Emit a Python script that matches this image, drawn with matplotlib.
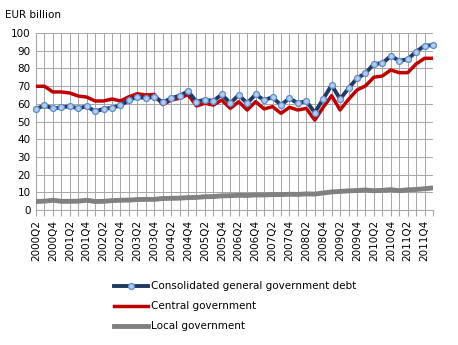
import matplotlib.pyplot as plt

# quarters 2000Q2 .. 2012Q1
quarters = []
for y in range(2000, 2013):
    for q in range(1, 5):
        quarters.append("%dQ%d" % (y, q))
quarters = quarters[1:49]

consolidated = [57.1, 59.1, 57.4, 58.0, 58.6, 57.4, 58.6, 55.7, 57.1, 57.8,
                59.1, 62.0, 64.0, 63.1, 64.0, 60.8, 63.1, 64.6, 67.0, 61.2,
                62.3, 61.6, 65.3, 60.3, 65.0, 60.3, 65.3, 62.1, 63.7, 59.3,
                63.1, 60.3, 61.6, 55.0, 62.7, 70.6, 62.7, 68.7, 74.4, 77.2,
                82.5, 82.9, 87.0, 84.4, 85.1, 89.5, 92.7, 93.2]
central = [69.9, 69.9, 66.7, 66.7, 66.1, 64.4, 63.8, 61.6, 61.6, 62.7,
           61.6, 64.0, 65.7, 65.0, 65.3, 59.5, 62.1, 63.1, 65.2, 58.8,
           60.3, 59.3, 62.1, 57.4, 61.2, 56.5, 61.2, 57.1, 58.4, 54.6,
           58.0, 56.5, 57.4, 50.8, 58.0, 64.6, 56.5, 62.5, 67.8, 70.1,
           75.0, 75.7, 79.1, 77.6, 77.6, 82.5, 85.7, 85.7]
local = [4.8, 5.0, 5.5, 4.9, 4.9, 5.0, 5.5, 4.8, 4.9, 5.3,
         5.5, 5.6, 5.9, 6.0, 6.0, 6.5, 6.6, 6.7, 7.0, 7.1,
         7.5, 7.6, 8.0, 8.1, 8.3, 8.2, 8.5, 8.5, 8.7, 8.7,
         8.9, 8.8, 9.1, 9.0, 9.6, 10.2, 10.5, 10.8, 11.0, 11.3,
         10.9, 11.1, 11.5, 10.9, 11.4, 11.6, 12.0, 12.5]

plt.rcParams['font.family'] = 'DejaVu Sans'
fig = plt.figure(figsize=(4.58, 3.45), dpi=100)
ax = fig.add_axes([36/458, 1-210/345, 397/458, 177/345])

x = list(range(len(quarters)))
ax.plot(x, local, color='#808080', lw=3.5, label='Local government', zorder=3)
ax.plot(x, central, color='#C00000', lw=2.5, label='Central government', zorder=4)
ax.plot(x, consolidated, color='#1F3864', lw=2.8, marker='o', ms=4.3,
        mfc='#B4CBEA', mec='#5B8BD0', mew=0.9, clip_on=False,
        label='Consolidated general government debt', zorder=5)

ax.set_xlim(0, len(quarters)-1)
ax.set_ylim(0, 100)
ax.set_yticks(range(0, 101, 10))
ax.set_xticks(x)
ax.set_xticklabels([q if i % 2 == 0 else '' for i, q in enumerate(quarters)],
                   rotation=90, fontsize=7.5)
ax.tick_params(axis='y', length=0, labelsize=7.5, pad=4)
ax.tick_params(axis='x', length=4, color='#A6A6A6', pad=3)
ax.grid(True, color='#A6A6A6', lw=0.7)
ax.set_axisbelow(True)
for s in ['top', 'right']:
    ax.spines[s].set_visible(False)
ax.spines['left'].set_color('#A6A6A6')
ax.spines['bottom'].set_color('#A6A6A6')

fig.text(5/458, 1-15/345, 'EUR billion', fontsize=7.5, va='center')

h, l = ax.get_legend_handles_labels()
fig.legend([h[2], h[1], h[0]], [l[2], l[1], l[0]], loc='upper left',
           bbox_to_anchor=(105/458, 1-272/345), frameon=False, fontsize=7.5,
           handlelength=3.2, handletextpad=0.3, labelspacing=0.95)

fig.savefig('out.png', dpi=100)
